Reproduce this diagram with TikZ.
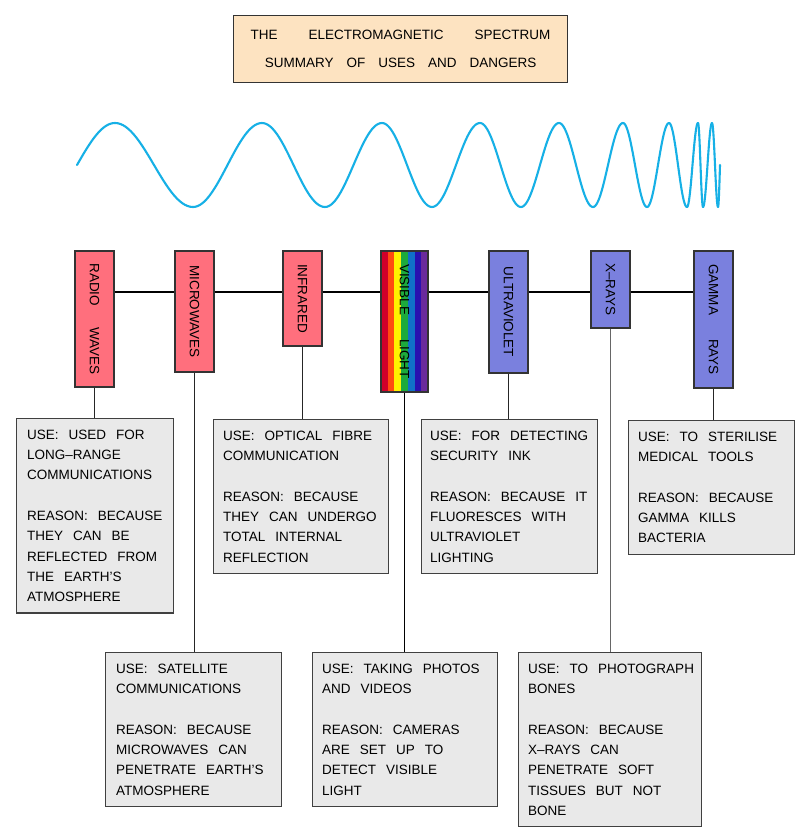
\documentclass[tikz,border=0pt]{standalone}
\usepackage{fontspec}
\usepackage{graphicx}
\setmainfont{Liberation Sans}
\usetikzlibrary{calc}
\definecolor{pinkbox}{RGB}{255,111,125}
\definecolor{bluebox}{RGB}{122,128,222}
\definecolor{boxgray}{RGB}{233,233,233}
\definecolor{titlecol}{RGB}{253,227,193}
\definecolor{wavecol}{RGB}{22,176,230}
\definecolor{vr}{RGB}{208,0,42}
\definecolor{vo}{RGB}{255,75,16}
\definecolor{vy}{RGB}{255,242,0}
\definecolor{vg}{RGB}{29,170,60}
\definecolor{vb}{RGB}{16,112,200}
\definecolor{vi}{RGB}{40,16,176}
\definecolor{vp}{RGB}{106,42,156}
\newcommand{\boxfont}{\fontsize{13.5}{20.3}\selectfont\spaceskip=10pt\relax}
\newcommand{\bandfont}{\fontsize{13.5}{16}\selectfont}
\begin{document}
\begin{tikzpicture}[x=1pt,y=-1pt,
  band/.style={draw=black!80, line width=1.1pt, minimum width=39pt, inner sep=0pt, font=\bandfont},
  pinkband/.style={band, fill=pinkbox},
  blueband/.style={band, fill=bluebox},
  tbox/.style={draw=black!75, fill=boxgray, line width=1.1pt, anchor=north west, inner sep=0pt},
  txt/.style={font=\boxfont, align=left, inner sep=0pt, anchor=west},
  hline/.style={line width=1.7pt, draw=black},
  vline/.style={line width=1pt, draw=black!85},
  wave/.style={line width=2.1pt, draw=wavecol, line cap=round, line join=round}]
\useasboundingbox (0,0) rectangle (811,838);
\fill[white] (0,0) rectangle (811,838);

% title
\node[draw=black!80, fill=titlecol, line width=1.1pt, minimum width=334pt, minimum height=67pt,
  anchor=north west, align=center, font=\fontsize{13.5}{28}\selectfont, inner sep=0pt] (title) at (233,15)
  {THE\hspace{31pt}ELECTROMAGNETIC\hspace{31pt}SPECTRUM\\SUMMARY\hspace{13pt}OF\hspace{13pt}USES\hspace{13pt}AND\hspace{13pt}DANGERS};

% wave
\draw[wave] plot[domain=0:1,samples=20,variable=\t] ({77+38*\t},{165-42*sin(90*\t)});
\foreach \a/\b/\sg in {115/193/1,193/262/-1,262/325/1,325/382/-1,382/432/1,432/480/-1,480/521/1,521/559/-1,559/593/1,593/623/-1,623/647/1,647/669/-1,669/687/1,687/698/-1,698/703/1,703/712/-1,712/718/1}
  \draw[wave] plot[domain=0:1,samples=30,variable=\t] ({\a+(\b-\a)*\t},{165-\sg*42*cos(180*\t)});
\draw[wave] plot[domain=0:1,samples=10,variable=\t] ({718+2*\t},{165+42*cos(90*\t)});

% bands
\node[pinkband, minimum height=136pt] (radio) at (94.5,319) {\rotatebox{-90}{RADIO\hspace{21pt}WAVES}};
\node[pinkband, minimum height=121pt] (micro) at (194.5,311.5) {\rotatebox{-90}{MICROWAVES}};
\node[pinkband, minimum height=95pt] (ir) at (302.5,298.5) {\rotatebox{-90}{INFRARED}};
\node[band, minimum width=47pt, minimum height=141pt,
  path picture={\foreach \c [count=\i from 0] in {vr,vo,vy,vg,vb,vi,vp}
    {\fill[\c] ([xshift=\i*6.72pt]path picture bounding box.north west) rectangle ([xshift=\i*6.72pt+6.9pt]path picture bounding box.south west);}}]
  (vis) at (404.5,321.5) {\rotatebox{-90}{VISIBLE\hspace{24pt}LIGHT}};
\node[blueband, minimum height=122pt] (uv) at (508.5,312) {\rotatebox{-90}{ULTRAVIOLET}};
\node[blueband, minimum height=77pt] (xr) at (610.5,289.5) {\rotatebox{-90}{X--RAYS}};
\node[blueband, minimum height=137pt] (gam) at (713.5,319.5) {\rotatebox{-90}{GAMMA\hspace{24pt}RAYS}};

% horizontal connectors
\coordinate (hl) at (0,292);
\draw[hline] (radio.east |- hl) -- (micro.west |- hl);
\draw[hline] (micro.east |- hl) -- (ir.west |- hl);
\draw[hline] (ir.east |- hl) -- (vis.west |- hl);
\draw[hline] (vis.east |- hl) -- (uv.west |- hl);
\draw[hline] (uv.east |- hl) -- (xr.west |- hl);
\draw[hline] (xr.east |- hl) -- (gam.west |- hl);

% text boxes
\node[tbox, minimum width=157pt, minimum height=194.4pt] (b1) at (16,418) {};
\node[txt] (t1) at ([xshift=11pt]b1.west) {USE: USED FOR\\LONG--RANGE\\COMMUNICATIONS\\[20.3pt]REASON: BECAUSE\\THEY CAN BE\\REFLECTED FROM\\THE EARTH'S\\ATMOSPHERE};

\node[tbox, minimum width=176pt, minimum height=153.8pt] (b2) at (105,652) {};
\node[txt] (t2) at ([xshift=11pt]b2.west) {USE: SATELLITE\\COMMUNICATIONS\\[20.3pt]REASON: BECAUSE\\MICROWAVES CAN\\PENETRATE EARTH'S\\ATMOSPHERE};

\node[tbox, minimum width=175pt, minimum height=153.8pt] (b3) at (213,419) {};
\node[txt] (t3) at ([xshift=10pt]b3.west) {USE: OPTICAL FIBRE\\COMMUNICATION\\[20.3pt]REASON: BECAUSE\\THEY CAN UNDERGO\\TOTAL INTERNAL\\REFLECTION};

\node[tbox, minimum width=185pt, minimum height=153.8pt] (b4) at (312,652) {};
\node[txt] (t4) at ([xshift=10pt]b4.west) {USE: TAKING PHOTOS\\AND VIDEOS\\[20.3pt]REASON: CAMERAS\\ARE SET UP TO\\DETECT VISIBLE\\LIGHT};

\node[tbox, minimum width=176pt, minimum height=153.8pt] (b5) at (421,419) {};
\node[txt] (t5) at ([xshift=9pt]b5.west) {USE: FOR DETECTING\\SECURITY INK\\[20.3pt]REASON: BECAUSE IT\\FLUORESCES WITH\\ULTRAVIOLET\\LIGHTING};

\node[tbox, minimum width=183pt, minimum height=174.1pt] (b6) at (518,652) {};
\node[txt] (t6) at ([xshift=10pt]b6.west) {USE: TO PHOTOGRAPH\\BONES\\[20.3pt]REASON: BECAUSE\\X--RAYS CAN\\PENETRATE SOFT\\TISSUES BUT NOT\\BONE};

\node[tbox, minimum width=166pt, minimum height=133.5pt] (b7) at (628,420) {};
\node[txt] (t7) at ([xshift=10pt]b7.west) {USE: TO STERILISE\\MEDICAL TOOLS\\[20.3pt]REASON: BECAUSE\\GAMMA KILLS\\BACTERIA};

% vertical connectors
\draw[vline] (radio.south) -- (radio.south |- b1.north);
\draw[vline] (micro.south) -- (micro.south |- b2.north);
\draw[vline] (ir.south) -- (ir.south |- b3.north);
\draw[vline, line width=1.6pt, draw=black] (vis.south) -- (vis.south |- b4.north);
\draw[vline] (uv.south) -- (uv.south |- b5.north);
\draw[vline, draw=black!60] (xr.south) -- (xr.south |- b6.north);
\draw[vline] (gam.south) -- (gam.south |- b7.north);
\end{tikzpicture}
\end{document}
